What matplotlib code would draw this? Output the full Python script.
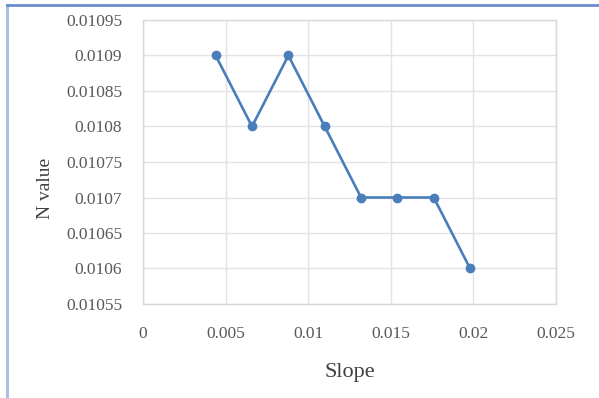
import numpy as np
import matplotlib
matplotlib.use("Agg")
import matplotlib.pyplot as plt
from matplotlib.lines import Line2D

# slope vs N value
slope = [0.0044, 0.0066, 0.0088, 0.0110, 0.0132, 0.0154, 0.0176, 0.0198]
n_value = [0.0109, 0.0108, 0.0109, 0.0108, 0.0107, 0.0107, 0.0107, 0.0106]

x_ticks = [0, 0.005, 0.01, 0.015, 0.02, 0.025]
x_labels = ['0', '0.005', '0.01', '0.015', '0.02', '0.025']
y_ticks = [0.01055, 0.0106, 0.01065, 0.0107, 0.01075, 0.0108, 0.01085, 0.0109, 0.01095]
y_labels = ['0.01055', '0.0106', '0.01065', '0.0107', '0.01075', '0.0108', '0.01085', '0.0109', '0.01095']

plt.rcParams['font.family'] = ['Liberation Serif', 'DejaVu Serif']

fig = plt.figure(figsize=(5.99, 3.98), dpi=100)
ax = fig.add_axes([143/599, 1 - 304/398, (556 - 143)/599, (304 - 20)/398])

line_col = '#4a7ebb'
ax.plot(slope, n_value, color=line_col, lw=1.9, marker='o', ms=6,
        markerfacecolor=line_col, markeredgecolor=line_col, zorder=3)

ax.set_xlim(0, 0.025)
ax.set_ylim(0.01055, 0.01095)
ax.set_xticks(x_ticks)
ax.set_xticklabels(x_labels)
ax.set_yticks(y_ticks)
ax.set_yticklabels(y_labels)
ax.tick_params(length=0, labelsize=12.5, labelcolor='#595959')
ax.tick_params(axis='y', pad=15)
ax.tick_params(axis='x', pad=16)

ax.grid(True, color='#e3e3e3', lw=1)
ax.set_axisbelow(True)
for s in ax.spines.values():
    s.set_color('#d9d9d9')
    s.set_linewidth(1)

ax.set_xlabel('Slope', fontsize=16, color='#404040', labelpad=15)
fig.text(45/599, 1 - 188/398, 'N value', rotation=90, ha='center', va='center',
         fontsize=14, color='#404040')

# frame around the chart
fig.add_artist(Line2D([7/599, 7/599], [0, 1 - 5/398], transform=fig.transFigure,
                      color='#a9c0e4', lw=2.2))
fig.add_artist(Line2D([7/599, 1], [1 - 5/398, 1 - 5/398], transform=fig.transFigure,
                      color='#6a8ccc', lw=2))

fig.savefig('out.png', dpi=100)
